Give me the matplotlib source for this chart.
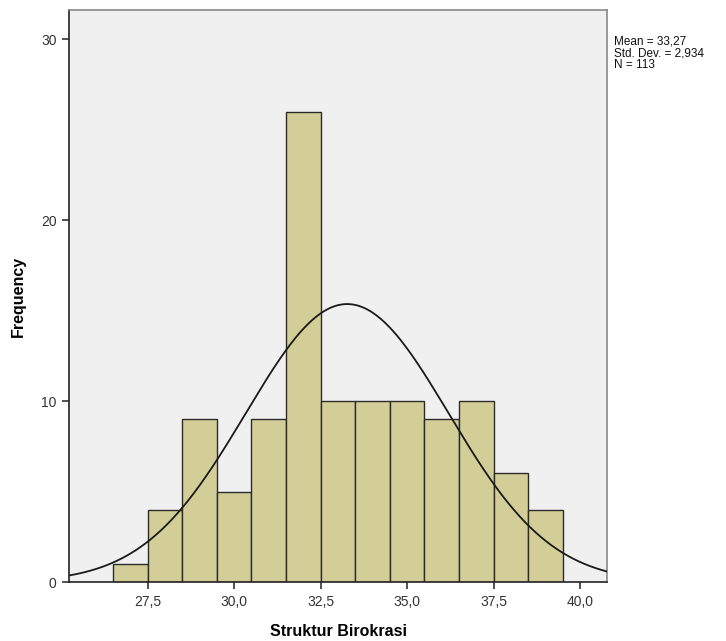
import matplotlib.pyplot as plt
import numpy as np

# histogram bins (width 1) and counts
bin_edges = [26.5, 27.5, 28.5, 29.5, 30.5, 31.5, 32.5, 33.5, 34.5, 35.5, 36.5, 37.5, 38.5, 39.5]
counts = [1, 4, 9, 5, 9, 26, 10, 10, 10, 9, 10, 6, 4]

mean = 33.27
std = 2.934
n = 113
x_ticks = [27.5, 30.0, 32.5, 35.0, 37.5, 40.0]
y_ticks = [0, 10, 20, 30]

plt.rcParams["font.family"] = ["Liberation Sans", "DejaVu Sans"]

fig = plt.figure(figsize=(7.26, 6.41), dpi=100)
ax = fig.add_axes([69 / 726, 59 / 641, 538 / 726, 572 / 641])
ax.set_facecolor("#f0f0f0")

lefts = np.array(bin_edges[:-1])
widths = np.diff(bin_edges)
ax.bar(lefts, counts, width=widths, align="edge",
       color="#d3ce97", edgecolor="#2b2b2b", linewidth=1.0, zorder=2)

xmin, xmax = 25.23, 40.78
xs = np.linspace(xmin, xmax, 400)
bw = 1.0
ys = n * bw / (std * np.sqrt(2 * np.pi)) * np.exp(-0.5 * ((xs - mean) / std) ** 2)
ax.plot(xs, ys, color="#1a1a1a", linewidth=1.3, zorder=3)

ax.set_xlim(xmin, xmax)
ax.set_ylim(0, 31.62)
ax.set_xticks(x_ticks)
ax.set_xticklabels([f"{v:.1f}".replace(".", ",") for v in x_ticks])
ax.set_yticks(y_ticks)
ax.tick_params(direction="out", length=5, width=1.2, labelsize=10, pad=4,
               colors="#333333", labelcolor="#333333")

for side in ["left", "bottom"]:
    ax.spines[side].set_color("#222222")
    ax.spines[side].set_linewidth(1.2)
for side in ["top", "right"]:
    ax.spines[side].set_color("#888888")
    ax.spines[side].set_linewidth(1.2)

ax.set_xlabel("Struktur Birokrasi", fontsize=11.5, fontweight="bold", labelpad=11)
ax.set_ylabel("Frequency", fontsize=11.5, fontweight="bold", labelpad=11)

fig.text(614 / 726, 1 - 36 / 641,
         f"Mean = {mean:.2f}\nStd. Dev. = {std:.3f}\nN = {n}".replace(".", ",").replace("Std, Dev,", "Std. Dev."),
         fontsize=8.5, va="top", ha="left", linespacing=0.92, color="#111111")

plt.savefig("out.png", dpi=100)
